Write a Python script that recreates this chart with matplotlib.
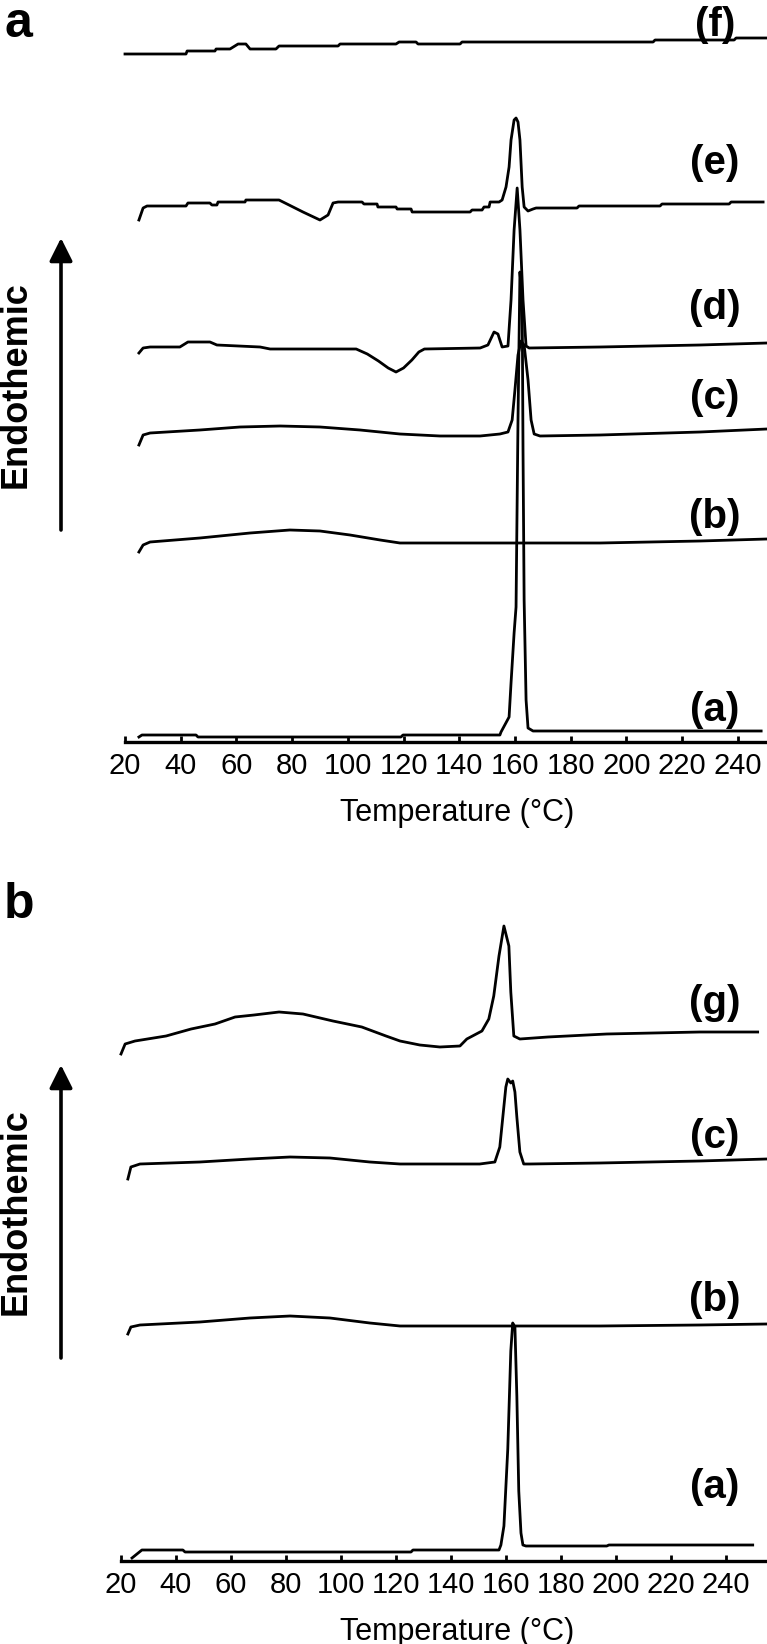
import matplotlib
matplotlib.use('Agg')
import matplotlib.pyplot as plt
from matplotlib import font_manager

# ---------------- data (temperature in °C, heat flow in arbitrary units) ----------------
# Panel a
a_f_T = [20.0, 41.9, 42.3, 52.3, 52.7, 57.7, 60.6, 63.4, 64.9, 74.2, 75.3, 96.5, 97.2, 117.3,
         118.4, 124.5, 125.2, 140.3, 141.0, 209.6, 210.3, 238.7, 239.4, 250.5]
a_f_v = [688, 688, 691, 691, 693, 693, 698, 698, 693, 693, 696, 696, 698, 698,
         700, 700, 698, 698, 700, 700, 702, 702, 704, 704]

a_e_T = [25.0, 26.5, 27.9, 41.9, 42.6, 50.5, 51.2, 53.0, 53.4, 63.1, 63.4, 75.3, 78.9, 83.9, 90.0,
         92.9, 94.7, 96.5, 105.1, 105.8, 110.5, 110.8, 117.3, 117.7, 122.7, 123.1, 143.9, 144.6,
         148.2, 148.9, 150.7, 151.1, 154.3, 155.4, 156.8, 157.9, 158.6, 159.7, 160.4, 161.1,
         161.8, 162.6, 163.3, 164.7, 166.5, 167.6, 182.3, 183.0, 212.1, 212.8, 236.9, 237.6, 249.1]
a_e_v = [522, 534, 536, 536, 539, 539, 537, 537, 540, 540, 542, 542, 537, 530, 522,
         527, 539, 540, 540, 538, 538, 535, 535, 533, 533, 530, 530, 532,
         532, 535, 535, 540, 540, 542, 555, 575, 602, 622, 624, 620,
         602, 555, 535, 531, 533, 534, 534, 536, 536, 538, 538, 540, 540]

a_d_T = [25.0, 26.5, 29.0, 39.7, 42.6, 50.5, 53.0, 68.5, 72.1, 103.0, 107.0, 111.0, 114.5, 117.3,
         120.0, 123.0, 125.5, 127.5, 147.5, 150.3, 152.5, 153.9, 155.4, 157.5, 158.6, 159.7,
         160.8, 161.8, 162.9, 164.0, 165.1, 190.6, 226.5, 250.5]
a_d_v = [389, 394, 395, 395, 400, 400, 397, 395, 393, 393, 388, 381, 374, 370,
         374, 382, 390, 393, 394, 397, 410, 408, 395, 396, 442, 512,
         554, 512, 442, 396, 394, 395, 397, 399]

a_c_T = [25.0, 26.5, 29.0, 46.9, 61.3, 75.7, 90.0, 104.4, 118.7, 133.1, 147.5, 154.6, 157.5,
         159.0, 160.0, 161.1, 162.2, 163.3, 164.7, 165.8, 166.9, 169.0, 190.6, 226.5, 250.5]
a_c_v = [297, 307, 309, 312, 315, 316, 315, 312, 308, 306, 306, 308, 310,
         322, 352, 387, 401, 397, 362, 322, 308, 306, 307, 310, 313]

a_b_T = [25.0, 26.5, 29.0, 46.9, 64.9, 79.2, 90.0, 100.8, 111.6, 118.7, 190.6, 226.5, 250.5]
a_b_v = [190, 197, 200, 204, 209, 212, 211, 207, 202, 199, 199, 201, 203]

a_a_T = [25.0, 26.1, 45.5, 46.2, 119.1, 119.8, 154.6, 155.0, 157.9, 158.6, 159.7, 160.4, 161.1,
         161.8, 162.6, 162.9, 163.3, 164.0, 164.7, 166.5, 248.4]
a_a_v = [5, 7, 7, 5, 5, 7, 7, 10, 25, 59, 109, 135, 322,
         470, 442, 292, 142, 42, 14, 11, 11]

# Panel b
b_g_T = [20.0, 21.5, 25.1, 36.4, 45.5, 54.2, 61.5, 68.4, 77.5, 86.2, 97.1, 107.6, 116.4, 121.5,
         128.7, 136.0, 143.3, 145.8, 151.3, 153.8, 155.6, 157.5, 159.3, 161.1, 161.8, 162.9,
         165.1, 175.3, 196.7, 230.5, 251.6]
b_g_v = [507, 517, 520, 525, 532, 537, 544, 546, 549, 547, 540, 534, 525, 520,
         516, 514, 515, 522, 530, 542, 565, 605, 635, 615, 569, 525,
         522, 524, 527, 529, 529]

b_c_T = [22.5, 23.6, 26.9, 48.7, 66.9, 81.5, 96.0, 110.5, 121.5, 150.5, 156.0, 157.8, 158.9,
         160.0, 160.7, 161.8, 162.5, 163.3, 164.0, 165.1, 166.5, 168.7, 194.2, 230.5, 254.9]
b_c_v = [382, 394, 397, 399, 402, 404, 403, 399, 397, 397, 399, 414, 444,
         474, 482, 478, 480, 469, 444, 409, 397, 397, 398, 400, 402]

b_b_T = [22.5, 23.6, 26.9, 48.7, 66.9, 81.5, 96.0, 110.5, 121.5, 194.2, 230.5, 254.9]
b_b_v = [227, 234, 236, 239, 243, 245, 243, 238, 235, 235, 236, 237]

b_a_T = [24.0, 27.6, 42.5, 43.3, 125.5, 126.2, 157.5, 158.2, 159.3, 160.7, 161.8, 162.5, 163.3,
         164.0, 164.7, 165.5, 166.2, 167.3, 196.7, 197.5, 249.8]
b_a_v = [3, 11, 11, 9, 9, 11, 11, 16, 35, 112, 210, 238, 234,
         165, 70, 28, 16, 15, 15, 16, 16]

x_ticks = [20, 40, 60, 80, 100, 120, 140, 160, 180, 200, 220, 240]
x_label = 'Temperature (°C)'
y_label = 'Endothemic'

# ---------------- fonts ----------------
names = {f.name for f in font_manager.fontManager.ttflist}
NARROW = 'Liberation Sans Narrow' if 'Liberation Sans Narrow' in names else 'Liberation Sans'
BOLD = 'Liberation Sans'
plt.rcParams['font.family'] = [BOLD, 'DejaVu Sans']

W, H = 767, 1644
fig = plt.figure(figsize=(W / 100, H / 100), dpi=100)
fig.patch.set_facecolor('white')


def fx(px):
    return px / W


def fy(py):
    return 1 - py / H


def make_axes(left_px, top_px, axis_px, xmax):
    ax = fig.add_axes([fx(left_px), fy(axis_px), 1 - fx(left_px), (axis_px - top_px) / H])
    ax.set_xlim(20, xmax)
    ax.set_ylim(0, axis_px - top_px)
    for s in ('top', 'right', 'left'):
        ax.spines[s].set_visible(False)
    ax.spines['bottom'].set_linewidth(2.4)
    ax.set_yticks([])
    ax.set_xticks(x_ticks)
    ax.set_xticklabels([str(t) for t in x_ticks])
    ax.tick_params(axis='x', direction='in', length=4, width=2, pad=7, labelsize=21)
    for lab in ax.get_xticklabels():
        lab.set_fontfamily(NARROW)
    ax.patch.set_alpha(0)
    return ax


axA = make_axes(125, 0, 742, 250.5)
axB = make_axes(121, 880, 1561, 255.0)

lw = 2.0
for T, v in [(a_f_T, a_f_v), (a_e_T, a_e_v), (a_d_T, a_d_v), (a_c_T, a_c_v),
             (a_b_T, a_b_v), (a_a_T, a_a_v)]:
    axA.plot(T, v, color='black', lw=lw, clip_on=False)
for T, v in [(b_g_T, b_g_v), (b_c_T, b_c_v), (b_b_T, b_b_v), (b_a_T, b_a_v)]:
    axB.plot(T, v, color='black', lw=lw, clip_on=False)

# curve labels
lab_kw = dict(fontsize=29, fontweight='bold', ha='center', va='center', family=BOLD)
for txt, py in [('(f)', 25), ('(e)', 163), ('(d)', 308), ('(c)', 398), ('(b)', 517), ('(a)', 710),
                ('(g)', 1003), ('(c)', 1137), ('(b)', 1300), ('(a)', 1487)]:
    fig.text(fx(715), fy(py), txt, **lab_kw)

# panel letters
fig.text(fx(4), fy(37), 'a', fontsize=36, fontweight='bold', ha='left', va='baseline')
fig.text(fx(4), fy(918), 'b', fontsize=36, fontweight='bold', ha='left', va='baseline')

# axis titles
for py in (813, 1632):
    fig.text(fx(340), fy(py), x_label, fontsize=22, ha='left', va='center', family=NARROW)
for py in (385, 1212):
    fig.text(fx(16), fy(py), y_label, fontsize=26, fontweight='bold', rotation=90,
             ha='center', va='center')

# arrows
for y0, y1 in ((530, 238), (1358, 1065)):
    fig.add_artist(matplotlib.patches.FancyArrowPatch(
        (fx(61), fy(y0)), (fx(61), fy(y1)), transform=fig.transFigure,
        arrowstyle='-|>,head_length=0.7,head_width=0.35', mutation_scale=20,
        lw=2.6, color='black', shrinkA=0, shrinkB=0))

fig.savefig('out.png', dpi=100, facecolor='white')
